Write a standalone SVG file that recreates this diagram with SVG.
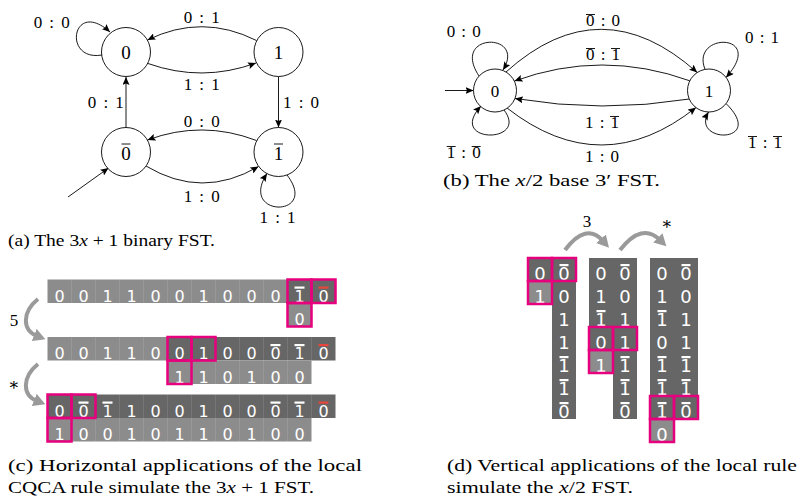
<svg xmlns="http://www.w3.org/2000/svg" width="802" height="500" viewBox="0 0 802 500">
<style>
.lbl{font-family:"Liberation Serif","DejaVu Serif",serif;font-size:17px;fill:#000;text-anchor:middle}
.nl{font-family:"Liberation Serif","DejaVu Serif",serif;font-size:19px;fill:#000;text-anchor:middle}
.nlb{font-family:"Liberation Serif","DejaVu Serif",serif;font-size:17px;fill:#000;text-anchor:middle}
.nc{fill:#fff;stroke:#000;stroke-width:0.9}
.ov{stroke:#000;stroke-width:0.9}
.e{fill:none;stroke:#000;stroke-width:0.9;marker-end:url(#ah)}
.cap{font-family:"Liberation Serif","DejaVu Serif",serif;font-size:17.5px;fill:#000}
.it{font-style:italic}
.cl{fill:#8c8c8c}
.cd{fill:#666666}
.ct{font-family:"DejaVu Sans",sans-serif;font-size:16px;fill:#fff;text-anchor:middle}
.dt{font-family:"DejaVu Sans",sans-serif;font-size:18px;fill:#fff;text-anchor:middle}
.bw{fill:#fff}
.br{fill:#e8453c}
.pk{fill:none;stroke:#e6007e;stroke-width:2.5}
.ga{fill:none;stroke:#9a9a9a;stroke-width:4;marker-end:url(#gah)}
</style>
<defs>
<marker id="ah" markerUnits="userSpaceOnUse" markerWidth="9" markerHeight="7" refX="8" refY="3.5" orient="auto">
<path d="M0,0 L8,3.5 L0,7 L1.5,3.5 z" fill="#000"/>
</marker>
<marker id="gah" markerUnits="userSpaceOnUse" markerWidth="14" markerHeight="14" refX="3" refY="6.5" orient="auto">
<path d="M0,0 L12,6.5 L0,13 z" fill="#9a9a9a"/>
</marker>
</defs>

<!-- (a) 3x+1 binary FST -->
<g id="a-connectors">
<path class="e" d="M102,55 C62,62 72,-2 110,32"/>
<path class="e" d="M256.5,40.5 Q202,13.2 147.5,40"/>
<path class="e" d="M148,63.5 Q202,82.7 256,63"/>
<path class="e" d="M126,127.5 L126,77"/>
<path class="e" d="M278.5,76.5 L278.5,127.5"/>
<path class="e" d="M256.5,140.5 Q202,119.7 147.5,140"/>
<path class="e" d="M146,166 Q202,199.7 258.5,166.5"/>
<path class="e" d="M68,197 L108.5,168"/>
<path class="e" d="M287,175 C320,218 238,218 267,173.5"/>
</g>
<g id="a-labels">
<text class="lbl" x="51.7" y="28" textLength="36" lengthAdjust="spacing">0 : 0</text>
<text class="lbl" x="201.7" y="23" textLength="36" lengthAdjust="spacing">0 : 1</text>
<text class="lbl" x="201.7" y="90" textLength="36" lengthAdjust="spacing">1 : 1</text>
<text class="lbl" x="105.8" y="108" textLength="36" lengthAdjust="spacing">0 : 1</text>
<text class="lbl" x="301" y="108" textLength="36" lengthAdjust="spacing">1 : 0</text>
<text class="lbl" x="201.7" y="126.7" textLength="36" lengthAdjust="spacing">0 : 0</text>
<text class="lbl" x="201.7" y="201.7" textLength="36" lengthAdjust="spacing">1 : 0</text>
<text class="lbl" x="277.5" y="223" textLength="36" lengthAdjust="spacing">1 : 1</text>
</g>
<g id="a-n0"><circle class="nc" cx="126" cy="52" r="24.5"/><text class="nl" x="126" y="58.5">0</text></g>
<g id="a-n1"><circle class="nc" cx="278.5" cy="52" r="24.5"/><text class="nl" x="278.5" y="58.5">1</text></g>
<g id="a-n0b"><circle class="nc" cx="126" cy="152" r="24.5"/><text class="nl" x="126" y="159.5">0</text><line class="ov" x1="121.5" y1="144" x2="130.5" y2="144"/></g>
<g id="a-n1b"><circle class="nc" cx="278.5" cy="152" r="24.5"/><text class="nl" x="278.5" y="159.5">1</text><line class="ov" x1="274" y1="144" x2="283" y2="144"/></g>
<text class="cap" x="8" y="246" textLength="207" lengthAdjust="spacingAndGlyphs">(a) The 3<tspan class="it">x</tspan> + 1 binary FST.</text>

<!-- (b) x/2 base 3' FST -->
<g id="b-connectors">
<path class="e" d="M445,90.5 L473.5,90.5"/>
<path class="e" d="M479,76 C450,32 527,32 503,70"/>
<path class="e" d="M504,110 C530,144 446,144 481,106"/>
<path class="e" d="M506,72 Q601,-13.6 697.2,72.5"/>
<path class="e" d="M689.8,80.8 Q602,49.1 514.5,81"/>
<path class="e" d="M689.5,99 Q602,113.2 515,98.5"/>
<path class="e" d="M507,108 Q602,182.2 696,107.5"/>
<path class="e" d="M705,69.3 C690,32 767,32 726,77.5"/>
<path class="e" d="M726,103.5 C767,144 690,144 708.5,112"/>
</g>
<g id="b-labels">
<text class="lbl" x="463.7" y="36.7" textLength="34" lengthAdjust="spacing">0 : 0</text>
<text class="lbl" x="603" y="26" textLength="34" lengthAdjust="spacing">0 : 0</text>
<line class="ov" x1="586" y1="14.5" x2="595" y2="14.5"/>
<text class="lbl" x="603" y="60" textLength="34" lengthAdjust="spacing">0 : 1</text>
<line class="ov" x1="586" y1="48.5" x2="595" y2="48.5"/>
<line class="ov" x1="611" y1="48.5" x2="620" y2="48.5"/>
<text class="lbl" x="762" y="43.3" textLength="34" lengthAdjust="spacing">0 : 1</text>
<text class="lbl" x="602" y="128" textLength="34" lengthAdjust="spacing">1 : 1</text>
<line class="ov" x1="610" y1="116.5" x2="619" y2="116.5"/>
<text class="lbl" x="602" y="161.7" textLength="34" lengthAdjust="spacing">1 : 0</text>
<text class="lbl" x="463.7" y="158" textLength="34" lengthAdjust="spacing">1 : 0</text>
<line class="ov" x1="446.7" y1="146.5" x2="455.7" y2="146.5"/>
<line class="ov" x1="471.7" y1="146.5" x2="480.7" y2="146.5"/>
<text class="lbl" x="765" y="148" textLength="34" lengthAdjust="spacing">1 : 1</text>
<line class="ov" x1="748" y1="136.5" x2="757" y2="136.5"/>
<line class="ov" x1="773" y1="136.5" x2="782" y2="136.5"/>
</g>
<g id="b-n0"><circle class="nc" cx="495" cy="90.5" r="21.5"/><text class="nlb" x="495" y="96.5">0</text></g>
<g id="b-n1"><circle class="nc" cx="709" cy="90.5" r="21.5"/><text class="nlb" x="709" y="96.5">1</text></g>
<text class="cap" x="443" y="186" textLength="217" lengthAdjust="spacingAndGlyphs">(b) The <tspan class="it">x</tspan>/2 base 3′ FST.</text>

<!-- (c) horizontal applications -->
<g id="c-cells">
<rect class="cl" x="47.5" y="279.5" width="240" height="23.5"/>
<rect class="cd" x="287.5" y="279.5" width="48" height="23.5"/>
<rect class="cl" x="287.5" y="303" width="24" height="23.5"/>
<rect class="cl" x="47.5" y="337" width="120" height="23.5"/>
<rect class="cd" x="167.5" y="337" width="168" height="23.5"/>
<rect class="cl" x="167.5" y="360.5" width="144" height="23.5"/>
<rect class="cd" x="47.5" y="394.5" width="288" height="23.5"/>
<rect class="cl" x="47.5" y="418" width="264" height="23.5"/>
</g>
<g id="c-grid" stroke="#ffffff" stroke-opacity="0.18" stroke-width="0.6">
<path d="M71.5,279.5V303M95.5,279.5V303M119.5,279.5V303M143.5,279.5V303M167.5,279.5V303M191.5,279.5V303M215.5,279.5V303M239.5,279.5V303M263.5,279.5V303M311.5,279.5V303"/>
<path d="M71.5,337V360.5M95.5,337V360.5M119.5,337V360.5M143.5,337V360.5M191.5,337V384M215.5,337V384M239.5,337V384M263.5,337V384M287.5,337V384M311.5,337V360.5"/>
<path d="M71.5,394.5V441.5M95.5,394.5V441.5M119.5,394.5V441.5M143.5,394.5V441.5M167.5,394.5V441.5M191.5,394.5V441.5M215.5,394.5V441.5M239.5,394.5V441.5M263.5,394.5V441.5M287.5,394.5V441.5M311.5,394.5V418"/>
</g>
<g id="c-text">
<text class="ct" x="59.5" y="301.5">0</text><text class="ct" x="83.5" y="301.5">0</text><text class="ct" x="107.5" y="301.5">1</text><text class="ct" x="131.5" y="301.5">1</text><text class="ct" x="155.5" y="301.5">0</text><text class="ct" x="179.5" y="301.5">0</text><text class="ct" x="203.5" y="301.5">1</text><text class="ct" x="227.5" y="301.5">0</text><text class="ct" x="251.5" y="301.5">0</text><text class="ct" x="275.5" y="301.5">0</text><text class="ct" x="299.5" y="301.5">1</text><text class="ct" x="323.5" y="301.5">0</text>
<rect class="bw" x="294.5" y="286.5" width="10" height="2.2"/><rect class="br" x="318.5" y="286.5" width="10" height="2.2"/>
<text class="ct" x="299.5" y="325">0</text>
<text class="ct" x="59.5" y="359">0</text><text class="ct" x="83.5" y="359">0</text><text class="ct" x="107.5" y="359">1</text><text class="ct" x="131.5" y="359">1</text><text class="ct" x="155.5" y="359">0</text><text class="ct" x="179.5" y="359">0</text><text class="ct" x="203.5" y="359">1</text><text class="ct" x="227.5" y="359">0</text><text class="ct" x="251.5" y="359">0</text><text class="ct" x="275.5" y="359">0</text><text class="ct" x="299.5" y="359">1</text><text class="ct" x="323.5" y="359">0</text>
<rect class="bw" x="270.5" y="344" width="10" height="2.2"/><rect class="bw" x="294.5" y="344" width="10" height="2.2"/><rect class="br" x="318.5" y="344" width="10" height="2.2"/>
<text class="ct" x="179.5" y="382.5">1</text><text class="ct" x="203.5" y="382.5">1</text><text class="ct" x="227.5" y="382.5">0</text><text class="ct" x="251.5" y="382.5">1</text><text class="ct" x="275.5" y="382.5">0</text><text class="ct" x="299.5" y="382.5">0</text>
<text class="ct" x="59.5" y="416.5">0</text><text class="ct" x="83.5" y="416.5">0</text><text class="ct" x="107.5" y="416.5">1</text><text class="ct" x="131.5" y="416.5">1</text><text class="ct" x="155.5" y="416.5">0</text><text class="ct" x="179.5" y="416.5">0</text><text class="ct" x="203.5" y="416.5">1</text><text class="ct" x="227.5" y="416.5">0</text><text class="ct" x="251.5" y="416.5">0</text><text class="ct" x="275.5" y="416.5">0</text><text class="ct" x="299.5" y="416.5">1</text><text class="ct" x="323.5" y="416.5">0</text>
<rect class="bw" x="78.5" y="401.5" width="10" height="2.2"/><rect class="bw" x="102.5" y="401.5" width="10" height="2.2"/><rect class="bw" x="270.5" y="401.5" width="10" height="2.2"/><rect class="bw" x="294.5" y="401.5" width="10" height="2.2"/><rect class="br" x="318.5" y="401.5" width="10" height="2.2"/>
<text class="ct" x="59.5" y="440">1</text><text class="ct" x="83.5" y="440">0</text><text class="ct" x="107.5" y="440">0</text><text class="ct" x="131.5" y="440">1</text><text class="ct" x="155.5" y="440">0</text><text class="ct" x="179.5" y="440">1</text><text class="ct" x="203.5" y="440">1</text><text class="ct" x="227.5" y="440">0</text><text class="ct" x="251.5" y="440">1</text><text class="ct" x="275.5" y="440">0</text><text class="ct" x="299.5" y="440">0</text>
</g>
<g id="c-highlight">
<rect class="pk" x="287.5" y="279.5" width="24" height="23.5"/><rect class="pk" x="311.5" y="279.5" width="24" height="23.5"/><rect class="pk" x="287.5" y="303" width="24" height="23.5"/>
<rect class="pk" x="167.5" y="337" width="24" height="23.5"/><rect class="pk" x="191.5" y="337" width="24" height="23.5"/><rect class="pk" x="167.5" y="360.5" width="24" height="23.5"/>
<rect class="pk" x="47.5" y="394.5" width="24" height="23.5"/><rect class="pk" x="71.5" y="394.5" width="24" height="23.5"/><rect class="pk" x="47.5" y="418" width="24" height="23.5"/>
</g>
<g id="c-arrows">
<path class="ga" d="M38,299 C22,312 22,330 37,336"/>
<path class="ga" d="M38,364 C22,377 22,395 37,401"/>
<text class="lbl" x="14" y="326">5</text>
<text class="lbl" x="14" y="390">∗</text>
</g>
<text class="cap" x="8" y="471" textLength="354" lengthAdjust="spacingAndGlyphs">(c) Horizontal applications of the local</text>
<text class="cap" x="8" y="493" textLength="306" lengthAdjust="spacingAndGlyphs">CQCA rule simulate the 3<tspan class="it">x</tspan> + 1 FST.</text>

<!-- (d) vertical applications -->
<g id="d-cells">
<rect class="cd" x="528" y="258" width="24" height="23"/>
<rect class="cl" x="528" y="281" width="24" height="23"/>
<rect class="cd" x="552" y="258" width="24" height="161"/>
<rect class="cd" x="589" y="258" width="24" height="92"/>
<rect class="cl" x="589" y="350" width="24" height="23"/>
<rect class="cd" x="613" y="258" width="24" height="161"/>
<rect class="cd" x="650" y="258" width="24" height="161"/>
<rect class="cl" x="650" y="419" width="24" height="23"/>
<rect class="cd" x="674" y="258" width="24" height="161"/>
</g>
<g id="d-text">
<text class="dt" x="540" y="279.5">0</text><text class="dt" x="540" y="302.5">1</text>
<text class="dt" x="564" y="279.5">0</text><text class="dt" x="564" y="302.5">0</text><text class="dt" x="564" y="325.5">1</text><text class="dt" x="564" y="348.5">1</text><text class="dt" x="564" y="371.5">1</text><text class="dt" x="564" y="394.5">1</text><text class="dt" x="564" y="417.5">0</text>
<rect class="bw" x="559.5" y="264" width="9" height="2.2"/><rect class="bw" x="559.5" y="356" width="9" height="2.2"/><rect class="bw" x="559.5" y="379" width="9" height="2.2"/><rect class="bw" x="559.5" y="402" width="9" height="2.2"/>
<text class="dt" x="601" y="279.5">0</text><text class="dt" x="601" y="302.5">1</text><text class="dt" x="601" y="325.5">1</text><text class="dt" x="601" y="348.5">0</text><text class="dt" x="601" y="371.5">1</text>
<rect class="bw" x="596.5" y="310" width="9" height="2.2"/>
<text class="dt" x="625" y="279.5">0</text><text class="dt" x="625" y="302.5">0</text><text class="dt" x="625" y="325.5">1</text><text class="dt" x="625" y="348.5">1</text><text class="dt" x="625" y="371.5">1</text><text class="dt" x="625" y="394.5">1</text><text class="dt" x="625" y="417.5">0</text>
<rect class="bw" x="620.5" y="264" width="9" height="2.2"/><rect class="bw" x="620.5" y="356" width="9" height="2.2"/><rect class="bw" x="620.5" y="379" width="9" height="2.2"/><rect class="bw" x="620.5" y="402" width="9" height="2.2"/>
<text class="dt" x="662" y="279.5">0</text><text class="dt" x="662" y="302.5">1</text><text class="dt" x="662" y="325.5">1</text><text class="dt" x="662" y="348.5">0</text><text class="dt" x="662" y="371.5">1</text><text class="dt" x="662" y="394.5">1</text><text class="dt" x="662" y="417.5">1</text><text class="dt" x="662" y="440.5">0</text>
<rect class="bw" x="657.5" y="310" width="9" height="2.2"/><rect class="bw" x="657.5" y="356" width="9" height="2.2"/><rect class="bw" x="657.5" y="379" width="9" height="2.2"/><rect class="bw" x="657.5" y="402" width="9" height="2.2"/>
<text class="dt" x="686" y="279.5">0</text><text class="dt" x="686" y="302.5">0</text><text class="dt" x="686" y="325.5">1</text><text class="dt" x="686" y="348.5">1</text><text class="dt" x="686" y="371.5">1</text><text class="dt" x="686" y="394.5">1</text><text class="dt" x="686" y="417.5">0</text>
<rect class="bw" x="681.5" y="264" width="9" height="2.2"/><rect class="bw" x="681.5" y="356" width="9" height="2.2"/><rect class="bw" x="681.5" y="379" width="9" height="2.2"/><rect class="bw" x="681.5" y="402" width="9" height="2.2"/>
</g>
<g id="d-highlight">
<rect class="pk" x="528" y="258" width="24" height="23"/><rect class="pk" x="552" y="258" width="24" height="23"/><rect class="pk" x="528" y="281" width="24" height="23"/>
<rect class="pk" x="589" y="327" width="24" height="23"/><rect class="pk" x="613" y="327" width="24" height="23"/><rect class="pk" x="589" y="350" width="24" height="23"/>
<rect class="pk" x="650" y="396" width="24" height="23"/><rect class="pk" x="674" y="396" width="24" height="23"/><rect class="pk" x="650" y="419" width="24" height="23"/>
</g>
<g id="d-arrows">
<path class="ga" d="M565,250 Q586,222 603,241"/>
<path class="ga" d="M620,250 Q642,222 660,240"/>
<text class="lbl" x="587" y="227">3</text>
<text class="lbl" x="667" y="229">∗</text>
</g>
<text class="cap" x="447" y="471" textLength="350" lengthAdjust="spacingAndGlyphs">(d) Vertical applications of the local rule</text>
<text class="cap" x="447" y="493" textLength="186" lengthAdjust="spacingAndGlyphs">simulate the <tspan class="it">x</tspan>/2 FST.</text>
</svg>
